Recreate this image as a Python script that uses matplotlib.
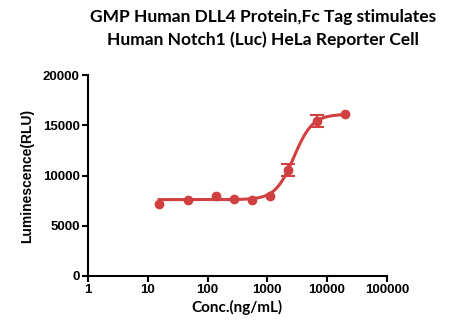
import numpy as np
import matplotlib.pyplot as plt

# data
conc = [15.4, 46.3, 139, 278, 556, 1111, 2222, 6667, 20000]
lum = [7200, 7560, 7960, 7630, 7560, 7960, 10550, 15450, 16100]
lum_err = [0, 0, 0, 0, 0, 0, 550, 600, 0]

# 4PL fit parameters (bottom, top, EC50, hill)
bottom = 7600
top = 16100
ec50 = 2790
hill = 2.78

x_ticks = [1, 10, 100, 1000, 10000, 100000]
x_tick_labels = ['1', '10', '100', '1000', '10000', '100000']
y_ticks = [0, 5000, 10000, 15000, 20000]

red = '#D04040'

fig = plt.figure(figsize=(4.66, 3.34), dpi=100)
ax = fig.add_axes([0.189, 0.174, 0.641, 0.601])

xs = np.logspace(np.log10(conc[0]), np.log10(conc[-1]), 300)
fit = bottom + (top - bottom) / (1 + (ec50 / xs) ** hill)
ax.plot(xs, fit, color=red, lw=2.2, zorder=2)
ax.plot(conc, lum, 'o', color=red, ms=6, zorder=3)

# error bars only where visible
has_err = [i for i, e in enumerate(lum_err) if e > 0]
ax.errorbar([conc[i] for i in has_err], [lum[i] for i in has_err],
            yerr=[lum_err[i] for i in has_err], fmt='none', ecolor=red,
            elinewidth=1.5, capsize=5, capthick=1.5, zorder=3)

ax.set_xscale('log')
ax.set_xlim(1, 100000)
ax.set_ylim(0, 20000)
ax.set_xticks(x_ticks)
ax.set_xticklabels(x_tick_labels)
ax.xaxis.set_minor_locator(plt.NullLocator())
ax.set_yticks(y_ticks)

for s in ['top', 'right']:
    ax.spines[s].set_visible(False)
for s in ['left', 'bottom']:
    ax.spines[s].set_linewidth(1.5)
ax.tick_params(width=1.5, length=4, labelsize=9.5, pad=2)
for lab in ax.get_xticklabels() + ax.get_yticklabels():
    lab.set_fontweight('bold')
    lab.set_family('Liberation Sans')

ax.set_xlabel('Conc.(ng/mL)', fontsize=11, fontweight='bold', family='Lato', labelpad=3)
ax.set_ylabel('Luminescence(RLU)', fontsize=10, fontweight='bold',
              family='Liberation Sans', labelpad=6)

fig.text(0.565, 0.95, 'GMP Human DLL4 Protein,Fc Tag stimulates', ha='center', va='center',
         fontsize=12.5, fontweight='bold', family='Lato')
fig.text(0.565, 0.88, 'Human Notch1 (Luc) HeLa Reporter Cell', ha='center', va='center',
         fontsize=12.5, fontweight='bold', family='Lato')

fig.savefig('out.png', dpi=100)
